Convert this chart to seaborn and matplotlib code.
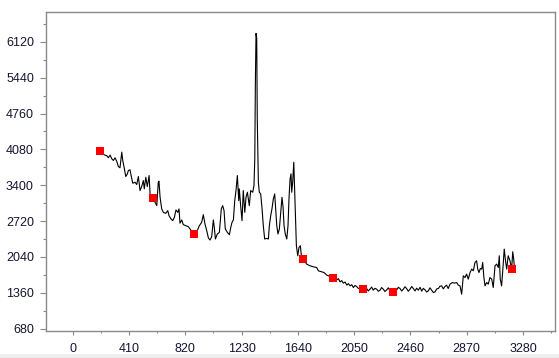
import seaborn as sns
import matplotlib.pyplot as plt
import pandas as pd
from matplotlib.patches import Rectangle
from matplotlib.ticker import MultipleLocator

# trace
x = [201, 223, 248, 259, 272, 284, 296, 308, 320, 332, 344, 357, 364, 376, 386,
     398, 405, 417, 425, 437, 454, 466, 478, 490, 502, 514, 521, 532, 543, 556,
     563, 583, 599, 612, 623, 628, 636, 648, 660, 677, 692, 701, 716, 728, 740,
     752, 765, 774, 781, 794, 805, 825, 842, 854, 881, 907, 922, 939, 951, 963,
     976, 988, 1000, 1012, 1024, 1031, 1039, 1053, 1068, 1082, 1092, 1102, 1111,
     1126, 1141, 1151, 1160, 1170, 1180, 1189, 1199, 1209, 1213, 1224, 1233,
     1242, 1253, 1262, 1272, 1286, 1296, 1311, 1320, 1326, 1330, 1335, 1340,
     1344, 1352, 1359, 1369, 1379, 1388, 1398, 1413, 1425, 1432, 1442, 1451,
     1461, 1471, 1478, 1486, 1495, 1505, 1515, 1524, 1532, 1539, 1548, 1559,
     1568, 1575, 1583, 1590, 1595, 1602, 1610, 1617, 1624, 1629, 1639, 1648,
     1658, 1665, 1679, 1704, 1728, 1752, 1777, 1789, 1813, 1830, 1850, 1874,
     1898, 1910, 1923, 1935, 1947, 1959, 1971, 1984, 1996, 2008, 2020, 2032,
     2044, 2056, 2068, 2080, 2092, 2104, 2116, 2129, 2141, 2153, 2165, 2177,
     2189, 2201, 2214, 2226, 2238, 2250, 2262, 2274, 2287, 2299, 2311, 2320,
     2331, 2345, 2360, 2372, 2384, 2396, 2408, 2420, 2432, 2444, 2457, 2469,
     2481, 2493, 2505, 2517, 2530, 2542, 2554, 2566, 2578, 2590, 2602, 2615,
     2627, 2639, 2651, 2663, 2675, 2687, 2699, 2711, 2723, 2735, 2748, 2765,
     2779, 2797, 2808, 2821, 2833, 2845, 2857, 2869, 2881, 2894, 2906, 2918,
     2930, 2942, 2950, 2959, 2969, 2979, 2986, 2995, 3003, 3015, 3027, 3039,
     3052, 3063, 3076, 3088, 3100, 3107, 3114, 3124, 3134, 3143, 3154, 3161,
     3172, 3185, 3197, 3205, 3212, 3216]
y = [4054, 3984, 3959, 3921, 3971, 3902, 3870, 3921, 3856, 3756, 3731, 4028,
     3870, 3712, 3565, 3617, 3680, 3693, 3585, 3438, 3457, 3413, 3565, 3299,
     3375, 3489, 3332, 3552, 3375, 3585, 3236, 3160, 3077, 3014, 3457, 3476,
     3172, 2951, 2886, 2867, 2919, 2824, 2761, 2729, 2791, 2932, 2886, 2951,
     2681, 2742, 2653, 2633, 2614, 2571, 2476, 2538, 2633, 2696, 2843, 2666,
     2538, 2400, 2361, 2424, 2742, 2601, 2381, 2476, 2506, 2951, 3014, 2919,
     2571, 2506, 2462, 2601, 2696, 2742, 3109, 3299, 3584, 3109, 3332, 2982,
     2729, 3299, 2886, 3172, 3267, 3014, 3299, 3267, 3394, 3902, 5296, 6280,
     6185, 4663, 3457, 3267, 3236, 2951, 2633, 2381, 2392, 2381, 2633, 2824,
     2951, 3141, 3236, 2951, 2633, 2476, 2571, 2886, 3172, 2982, 2633, 2476,
     2381, 2633, 3141, 3522, 3617, 3267, 3457, 3837, 3267, 2633, 2253, 2063,
     2221, 2253, 2063, 2000, 1905, 1873, 1854, 1840, 1778, 1759, 1745, 1696,
     1669, 1639, 1625, 1606, 1628, 1568, 1592, 1544, 1565, 1506, 1535, 1492,
     1515, 1460, 1500, 1479, 1445, 1441, 1478, 1429, 1460, 1441, 1395, 1429,
     1470, 1410, 1445, 1429, 1390, 1410, 1460, 1429, 1385, 1416, 1455, 1395,
     1380, 1378, 1435, 1416, 1465, 1441, 1395, 1429, 1475, 1441, 1390, 1429,
     1480, 1441, 1395, 1448, 1410, 1465, 1392, 1445, 1416, 1375, 1397, 1455,
     1410, 1365, 1378, 1435, 1441, 1485, 1492, 1435, 1479, 1505, 1441, 1525,
     1555, 1544, 1555, 1506, 1492, 1334, 1683, 1650, 1715, 1620, 1745, 1810,
     1778, 1935, 1968, 1810, 1745, 1821, 1810, 1935, 1650, 1492, 1555, 1525,
     1650, 1620, 1460, 1873, 1905, 1840, 2063, 1620, 1492, 1840, 2190, 1935,
     1810, 2063, 1968, 1810, 2139, 2000, 1873]

mark_x = [201, 583, 881, 1679, 1898, 2116, 2331, 3197]
mark_y = [4054, 3160, 2476, 2000, 1639, 1429, 1378, 1810]

xticks = [0, 410, 820, 1230, 1640, 2050, 2460, 2870, 3280]
yticks = [680, 1360, 2040, 2720, 3400, 4080, 4760, 5440, 6120]

sns.set_style("white")
plt.rcParams['font.family'] = ['Liberation Sans', 'DejaVu Sans']

line = pd.DataFrame({"x": x, "y": y})
pts = pd.DataFrame({"x": mark_x, "y": mark_y})

fig = plt.figure(figsize=(5.59, 3.58), dpi=100)
ax = fig.add_axes([0.0818, 0.0754, 0.9118, 0.8919])

sns.lineplot(data=line, x="x", y="y", ax=ax, color="black", lw=0.8,
             estimator=None, sort=False)
sns.scatterplot(data=pts, x="x", y="y", ax=ax, marker="s", s=32,
                color="#ff0000", edgecolor="none", zorder=3)

ax.set_xlim(-197, 3516)
ax.set_ylim(636, 6691)
ax.set_xticks(xticks)
ax.set_yticks(yticks)
ax.xaxis.set_minor_locator(MultipleLocator(205))
ax.yaxis.set_minor_locator(MultipleLocator(340))
ax.set_xlabel("")
ax.set_ylabel("")

for s in ax.spines.values():
    s.set_color("#8a8a8a")
    s.set_linewidth(1)
ax.tick_params(axis="both", which="both", direction="out", color="#8a8a8a",
               bottom=True, left=True, top=False, right=False,
               labelcolor="#141433", labelsize=9, width=0.8)
ax.tick_params(axis="y", which="major", length=4, pad=4.5)
ax.tick_params(axis="y", which="minor", length=2.2)
ax.tick_params(axis="x", which="major", length=2.6, pad=6)
ax.tick_params(axis="x", which="minor", length=1.6)

# grey strip at the very bottom of the window
fig.patches.append(Rectangle((0, 0), 1, 4 / 358, transform=fig.transFigure,
                             facecolor="#efefef", edgecolor="none", zorder=0))

fig.savefig("out.png", dpi=100)
